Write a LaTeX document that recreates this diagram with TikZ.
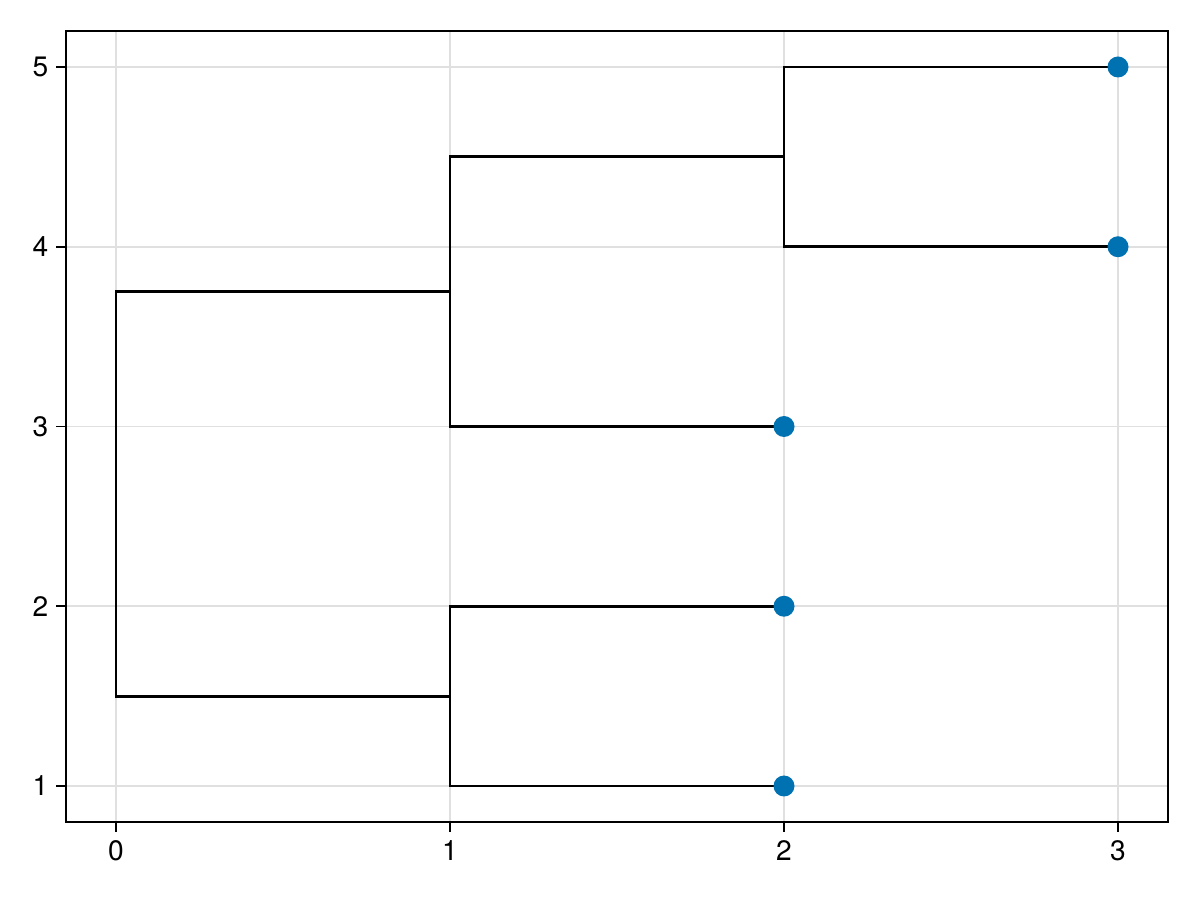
\documentclass[tikz,border=0pt]{standalone}
\usepackage{fontspec}
\setmainfont{TeX Gyre Heros}
\definecolor{dotblue}{RGB}{0,114,178}
\definecolor{gridgray}{RGB}{224,224,224}
\begin{document}
\begin{tikzpicture}[
  gridline/.style={draw=gridgray, line width=0.55pt},
  spine/.style={draw=black, line width=0.55pt},
  tickmark/.style={draw=black, line width=0.55pt},
  branch/.style={draw=black, line width=0.8pt, line join=miter},
  leafdot/.style={circle, fill=dotblue, draw=none, minimum size=0.21cm, inner sep=0pt},
  ticklabel/.style={font=\fontsize{8}{9.6}\selectfont, inner sep=0pt},
]
\useasboundingbox (0,0) rectangle (12,9);
\fill[white] (0,0) rectangle (12,9);
\begin{scope}[shift={(1.16cm,-0.6575cm)}, x=3.34cm, y=1.7975cm]
  % grid
  \foreach \i in {0,1,2,3} \draw[gridline] (\i,0.8) -- (\i,5.2);
  \foreach \j in {1,2,3,4,5} \draw[gridline] (-0.15,\j) -- (3.15,\j);
  % spines
  \draw[spine] (-0.15,0.8) rectangle (3.15,5.2);
  % ticks and labels
  \foreach \i in {0,1,2,3} {
    \draw[tickmark] (\i,0.8) -- ++(0,-0.1cm) coordinate (xt\i);
    \node[ticklabel, anchor=north] (xl\i) at ([yshift=-0.08cm]xt\i) {\i};
  }
  \foreach \j in {1,2,3,4,5} {
    \draw[tickmark] (-0.15,\j) -- ++(-0.1cm,0) coordinate (yt\j);
    \node[ticklabel, anchor=east] (yl\j) at ([xshift=-0.07cm]yt\j) {\j};
  }
  % dendrogram coordinates
  \coordinate (L1) at (2,1);
  \coordinate (L2) at (2,2);
  \coordinate (L3) at (2,3);
  \coordinate (L4) at (3,4);
  \coordinate (L5) at (3,5);
  \coordinate (J12) at (1,1.5);
  \coordinate (J45) at (2,4.5);
  \coordinate (J345) at (1,3.75);
  \coordinate (JR) at (0,2.625);
  % branches
  \draw[branch] (JR) |- (J12);
  \draw[branch] (JR) |- (J345);
  \draw[branch] (J12) |- (L1);
  \draw[branch] (J12) |- (L2);
  \draw[branch] (J345) |- (L3);
  \draw[branch] (J345) |- (J45);
  \draw[branch] (J45) |- (L4);
  \draw[branch] (J45) |- (L5);
  % leaves
  \node[leafdot] (d1) at (L1) {};
  \node[leafdot] (d2) at (L2) {};
  \node[leafdot] (d3) at (L3) {};
  \node[leafdot] (d4) at (L4) {};
  \node[leafdot] (d5) at (L5) {};
\end{scope}
\end{tikzpicture}
\end{document}
